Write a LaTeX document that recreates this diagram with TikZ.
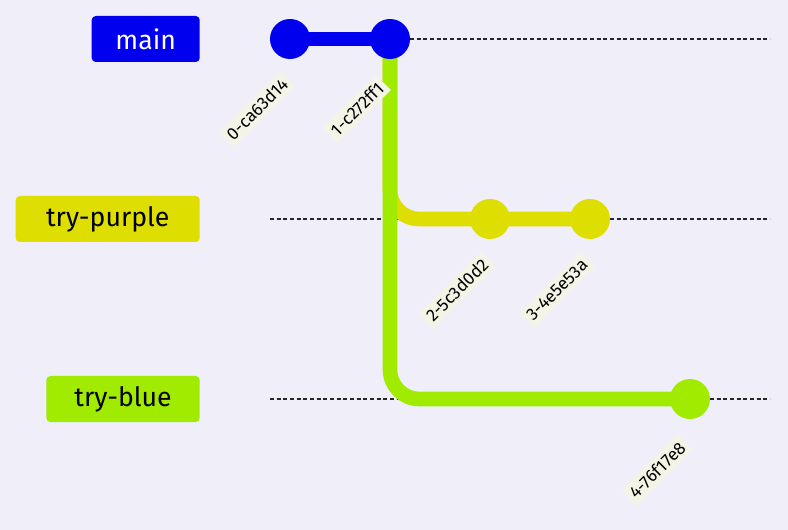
\documentclass[tikz,border=0pt]{standalone}
\usepackage{fontspec}
\setmainfont{Fira Sans}
\definecolor{bgc}{HTML}{F0EEF8}
\definecolor{mainc}{HTML}{0000EE}
\definecolor{purplec}{HTML}{DEDE00}
\definecolor{bluec}{HTML}{A0EB00}
\definecolor{tagc}{HTML}{F4F4E6}
\tikzset{
  branch/.style={rounded corners=3pt, minimum height=34.5pt, inner xsep=6pt, font=\fontsize{20}{22}\selectfont, anchor=east},
  commit/.style={circle, fill=#1, minimum size=30pt, inner sep=0pt},
  tag/.style={fill=tagc, rotate=45, font=\fontsize{13}{15}\selectfont, inner sep=3pt},
  lane/.style={densely dashed, gray!30!black, line width=0.9pt},
  path/.style={line width=11pt, draw=#1, rounded corners=22pt}
}
\begin{document}
\begin{tikzpicture}[x=0.75pt, y=-0.75pt]
  \useasboundingbox[fill=bgc] (0,0) rectangle (788,530);
  % branch names
  \node[branch, fill=mainc, text=white, minimum width=81pt] (bmain) at (200,39) {main};
  \node[branch, fill=purplec, minimum width=138pt] (bpurple) at (200,219) {try-purple};
  \node[branch, fill=bluec, minimum width=115pt] (bblue) at (200,399) {try-blue};
  % lanes
  \coordinate (lm0) at (270,39);   \coordinate (lm1) at (770,39);
  \coordinate (lp0) at (270,219);  \coordinate (lp1) at (770,219);
  \coordinate (lb0) at (270,399);  \coordinate (lb1) at (770,399);
  \draw[lane] (lm0) -- (lm1);
  \draw[lane] (lp0) -- (lp1);
  \draw[lane] (lb0) -- (lb1);
  % commit positions
  \coordinate (p0) at (290,39);
  \coordinate (p1) at (390,39);
  \coordinate (p2) at (490,219);
  \coordinate (p3) at (590,219);
  \coordinate (p4) at (690,399);
  % branch paths
  \draw[path=mainc] (p0) -- (p1);
  \draw[path=purplec] (p1) |- (p2) -- (p3);
  \draw[path=bluec] (p1) |- (p4);
  % commits
  \node[commit=mainc] (c0) at (p0) {};
  \node[commit=mainc] (c1) at (p1) {};
  \node[commit=purplec] (c2) at (p2) {};
  \node[commit=purplec] (c3) at (p3) {};
  \node[commit=bluec] (c4) at (p4) {};
  % commit ids
  \node[tag] at ([shift={(-33,70)}]c0) {0-ca63d14};
  \node[tag] at ([shift={(-33,70)}]c1) {1-c272ff1};
  \node[tag] at ([shift={(-33,71)}]c2) {2-5c3d0d2};
  \node[tag] at ([shift={(-33,71)}]c3) {3-4e5e53a};
  \node[tag] at ([shift={(-33,71)}]c4) {4-76f17e8};
\end{tikzpicture}
\end{document}
